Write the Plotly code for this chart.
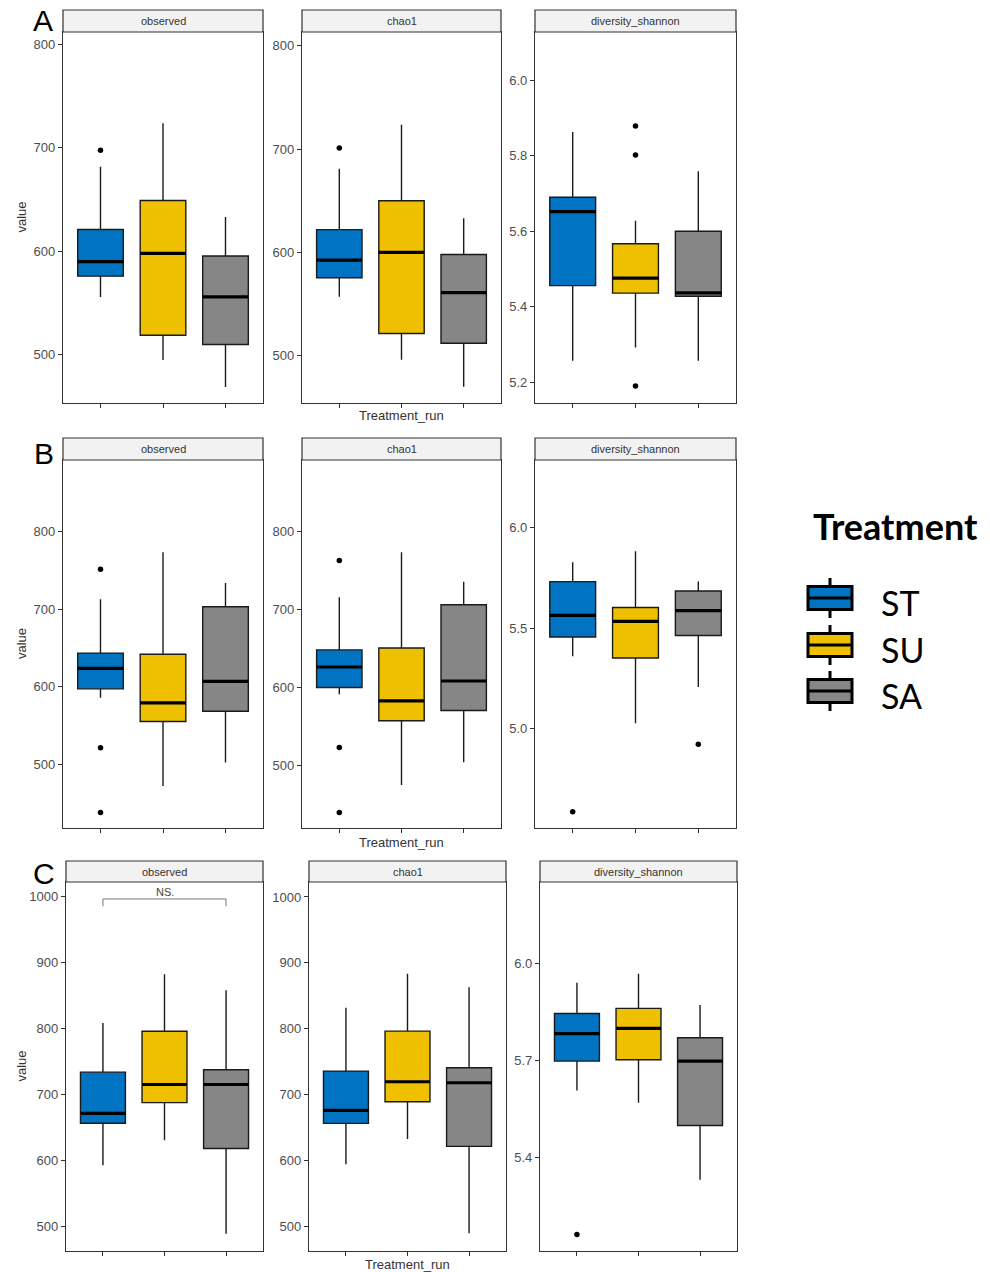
import plotly.graph_objects as go

W, H = 990, 1272

groups = ["ST", "SU", "SA"]
group_colors = ["#0073C2", "#EFC000", "#868686"]
metrics = ["observed", "chao1", "diversity_shannon"]
row_letters = ["A", "B", "C"]

# ---------------- data (box statistics) ----------------
# Panel A
A_observed = dict(q1=[576, 519, 510], med=[590, 598, 556], q3=[621, 649, 595.5],
                  lo=[556, 495, 469], hi=[681.5, 723.5, 633])
A_observed_out = {"ST": [697.6]}
A_chao1 = dict(q1=[575.5, 521.5, 512], med=[592.5, 600, 561], q3=[622, 650, 598],
               lo=[557, 496, 470], hi=[681, 723.5, 633])
A_chao1_out = {"ST": [701]}
A_shannon = dict(q1=[5.456, 5.436, 5.428], med=[5.652, 5.476, 5.437], q3=[5.690, 5.567, 5.600],
                 lo=[5.257, 5.292, 5.257], hi=[5.863, 5.628, 5.759])
A_shannon_out = {"SU": [5.879, 5.802, 5.19]}

# Panel B
B_observed = dict(q1=[597.4, 555.4, 568.6], med=[623.7, 579.4, 607], q3=[643.5, 642, 703.2],
                  lo=[585.8, 472, 502.6], hi=[712.8, 773.4, 734])
B_observed_out = {"ST": [751.5, 521.4, 438]}
B_chao1 = dict(q1=[599.6, 557, 570], med=[626, 582.4, 608], q3=[648, 650.5, 706],
               lo=[591, 474.4, 503.6], hi=[715.6, 773.6, 735.8])
B_chao1_out = {"ST": [763, 522.4, 438.8]}
B_shannon = dict(q1=[5.455, 5.351, 5.463], med=[5.563, 5.533, 5.587], q3=[5.731, 5.602, 5.684],
                 lo=[5.359, 5.026, 5.207], hi=[5.827, 5.882, 5.731])
B_shannon_out = {"ST": [4.586], "SA": [4.922]}

# Panel C
C_observed = dict(q1=[656.2, 687.5, 618], med=[671.3, 715, 715], q3=[733.7, 795.7, 737.3],
                  lo=[592.7, 630.5, 489], hi=[808, 882, 857.6])
C_observed_out = {}
C_chao1 = dict(q1=[656.6, 689.4, 621.7], med=[676.3, 719.7, 718.2], q3=[735.9, 796.5, 741],
               lo=[594.5, 633, 490], hi=[831.8, 883.4, 863])
C_chao1_out = {}
C_shannon = dict(q1=[5.697, 5.701, 5.498], med=[5.782, 5.798, 5.697], q3=[5.844, 5.860, 5.769],
                 lo=[5.606, 5.568, 5.330], hi=[5.939, 5.967, 5.870])
C_shannon_out = {"ST": [5.161]}

# y axis ranges and ticks
A_yranges = [[453.6, 811.6], [454.2, 813.3], [5.145, 6.128]]
B_yranges = [[418, 892.5], [419, 892.2], [4.505, 6.336]]
C_yranges = [[462.8, 1021.7], [463, 1022.7], [5.110, 6.2505]]
A_yticks = [[500, 600, 700, 800], [500, 600, 700, 800], [5.2, 5.4, 5.6, 5.8, 6.0]]
B_yticks = [[500, 600, 700, 800], [500, 600, 700, 800], [5.0, 5.5, 6.0]]
C_yticks = [[500, 600, 700, 800, 900, 1000], [500, 600, 700, 800, 900, 1000], [5.4, 5.7, 6.0]]

# significance bracket in C / observed
ns_bracket_x = [1, 1, 3, 3]
ns_bracket_y = [985, 996, 996, 985]
ns_label = "NS."
ns_label_y = 1007

panel_stats = [[A_observed, A_chao1, A_shannon],
               [B_observed, B_chao1, B_shannon],
               [C_observed, C_chao1, C_shannon]]
panel_out = [[A_observed_out, A_chao1_out, A_shannon_out],
             [B_observed_out, B_chao1_out, B_shannon_out],
             [C_observed_out, C_chao1_out, C_shannon_out]]
yranges = [A_yranges, B_yranges, C_yranges]
yticks = [A_yticks, B_yticks, C_yticks]

# ---------------- geometry (pixels) ----------------
rows_geo = [
    dict(strip=(10, 32), plot=(32, 403), cols=[(63, 263), (302, 501), (535, 736)], xlab=416, letter=(43, 21)),
    dict(strip=(438, 460), plot=(460, 828), cols=[(63, 263), (302, 501), (535, 736)], xlab=842, letter=(44, 454)),
    dict(strip=(861, 882), plot=(882, 1251), cols=[(66, 263), (309, 506), (540, 737)], xlab=1264, letter=(44, 873)),
]


def px(x):
    return x / W


def py(y):
    return 1 - y / H


def note(text, x, y, size, color="#333333", family="Liberation Sans", **kw):
    d = dict(text=text, x=px(x), y=py(y), xref="paper", yref="paper", showarrow=False,
             xanchor="center", yanchor="middle",
             font=dict(family=family, size=size, color=color))
    d.update(kw)
    return d


BOX_W = 0.73
LINE_C = "#1a1a1a"
AX_C = "#333333"
TICK_FONT = dict(family="Liberation Sans, Arial, sans-serif", size=13, color="#4d4d4d")

fig = go.Figure()
layout = dict(width=W, height=H, margin=dict(l=0, r=0, t=0, b=0),
              paper_bgcolor="white", plot_bgcolor="white", showlegend=False)
shapes = []
annotations = []

for r in range(3):
    g = rows_geo[r]
    for c in range(3):
        k = r * 3 + c + 1
        xa = "x" if k == 1 else f"x{k}"
        ya = "y" if k == 1 else f"y{k}"
        x0, x1 = g["cols"][c]
        st = panel_stats[r][c]
        for i, grp in enumerate(groups):
            fig.add_trace(go.Box(
                x=[i + 1], q1=[st["q1"][i]], median=[st["med"][i]], q3=[st["q3"][i]],
                lowerfence=[st["lo"][i]], upperfence=[st["hi"][i]],
                fillcolor=group_colors[i], line=dict(color=LINE_C, width=1.4),
                width=BOX_W, whiskerwidth=0, boxpoints=False,
                xaxis=xa, yaxis=ya, showlegend=False, hoverinfo="skip"))
            fig.add_trace(go.Scatter(
                x=[i + 1 - BOX_W / 2, i + 1 + BOX_W / 2], y=[st["med"][i], st["med"][i]],
                mode="lines", line=dict(color="black", width=3.2),
                xaxis=xa, yaxis=ya, showlegend=False, hoverinfo="skip"))
            outs = panel_out[r][c].get(grp, [])
            if outs:
                fig.add_trace(go.Scatter(
                    x=[i + 1] * len(outs), y=outs, mode="markers",
                    marker=dict(color="black", size=5.5),
                    xaxis=xa, yaxis=ya, showlegend=False, hoverinfo="skip"))
        if r == 2 and c == 0:
            fig.add_trace(go.Scatter(x=ns_bracket_x, y=ns_bracket_y, mode="lines",
                                     line=dict(color="#777777", width=1),
                                     xaxis=xa, yaxis=ya, showlegend=False, hoverinfo="skip"))
            annotations.append(dict(text=ns_label, x=2, y=ns_label_y, xref=xa, yref=ya,
                                    showarrow=False, xanchor="center", yanchor="middle",
                                    font=dict(family="Liberation Sans", size=11, color="#444444")))

        p0, p1 = g["plot"]
        tv = yticks[r][c]
        tt = [f"{v:.1f}" if c == 2 else f"{v:g}" for v in tv]
        common = dict(showline=True, mirror=True, linecolor=AX_C, linewidth=1.3,
                      ticks="outside", ticklen=4, tickcolor=AX_C, tickwidth=1,
                      showgrid=False, zeroline=False, fixedrange=True, tickfont=TICK_FONT)
        layout["xaxis" if k == 1 else f"xaxis{k}"] = dict(
            domain=[px(x0), px(x1)], range=[0.4, 3.6], tickvals=[1, 2, 3], ticktext=["", "", ""],
            anchor=ya, **common)
        layout["yaxis" if k == 1 else f"yaxis{k}"] = dict(
            domain=[py(p1), py(p0)], range=yranges[r][c], tickvals=tv, ticktext=tt,
            anchor=xa, **common)

        # strip
        s0, s1 = g["strip"]
        shapes.append(dict(type="rect", xref="paper", yref="paper", x0=px(x0), x1=px(x1),
                           y0=py(s1), y1=py(s0), fillcolor="#f2f2f2",
                           line=dict(color=AX_C, width=1.2), layer="above"))
        annotations.append(note(metrics[c], (x0 + x1) / 2, (s0 + s1) / 2, 11))

    # row annotations
    p0, p1 = g["plot"]
    annotations.append(note("value", 21, (p0 + p1) / 2, 13, textangle=-90))
    cx0, cx1 = g["cols"][1]
    annotations.append(note("Treatment_run", (cx0 + cx1) / 2, g["xlab"], 13))
    lx, ly = g["letter"]
    annotations.append(note(row_letters[r], lx, ly, 30, color="black"))

# ---------------- legend (drawn) ----------------
annotations.append(note("<b>Treatment</b>", 895, 526, 36, color="black", family="Lato"))
leg_centers = [598, 645, 691]
for i, grp in enumerate(groups):
    cy = leg_centers[i]
    shapes.append(dict(type="line", xref="paper", yref="paper", x0=px(830), x1=px(830),
                       y0=py(cy - 20), y1=py(cy + 20), line=dict(color="black", width=3)))
    shapes.append(dict(type="rect", xref="paper", yref="paper", x0=px(808), x1=px(852),
                       y0=py(cy + 11.5), y1=py(cy - 11.5), fillcolor=group_colors[i],
                       line=dict(color="black", width=3)))
    shapes.append(dict(type="line", xref="paper", yref="paper", x0=px(808), x1=px(852),
                       y0=py(cy), y1=py(cy), line=dict(color="black", width=3)))
    annotations.append(note(grp, 879, cy + 4, 34, color="black", family="Lato", xanchor="left"))

layout["shapes"] = shapes
layout["annotations"] = annotations
fig.update_layout(**layout)
fig.write_html("out.html")
